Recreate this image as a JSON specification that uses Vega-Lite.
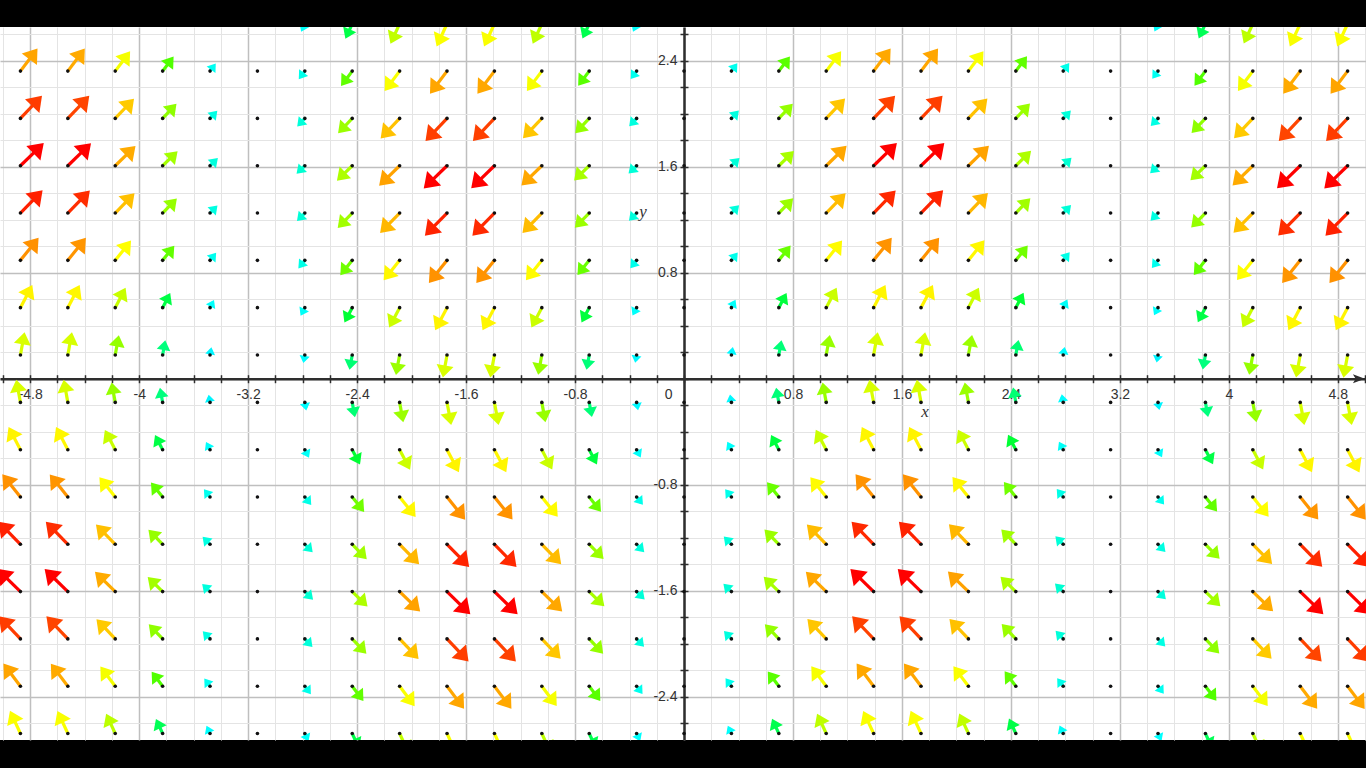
{
"$schema":"https://vega.github.io/schema/vega-lite/v6.json",
"width":1366,"height":713,"autosize":"none",
"padding":{"top":27,"bottom":28,"left":0,"right":0},
"background":"#000000",
"config":{"view":{"fill":"#ffffff","stroke":null}},
"data":{"values":[
{"x":-4.872,"y":2.678,"u":0.442,"v":0.987},{"x":-4.872,"y":2.321,"u":0.722,"v":0.987},{"x":-4.872,"y":1.964,"u":0.912,"v":0.987},{"x":-4.872,"y":1.607,"u":0.986,"v":0.987},{"x":-4.872,"y":1.25,"u":0.937,"v":0.987},{"x":-4.872,"y":0.893,"u":0.769,"v":0.987},{"x":-4.872,"y":0.536,"u":0.503,"v":0.987},{"x":-4.872,"y":0.179,"u":0.176,"v":0.987},{"x":-4.872,"y":-0.179,"u":-0.176,"v":0.987},{"x":-4.872,"y":-0.536,"u":-0.503,"v":0.987},{"x":-4.872,"y":-0.893,"u":-0.769,"v":0.987},{"x":-4.872,"y":-1.25,"u":-0.937,"v":0.987},{"x":-4.872,"y":-1.607,"u":-0.986,"v":0.987},{"x":-4.872,"y":-1.964,"u":-0.912,"v":0.987},{"x":-4.872,"y":-2.321,"u":-0.722,"v":0.987},{"x":-4.872,"y":-2.678,"u":-0.442,"v":0.987},
{"x":-4.524,"y":2.678,"u":0.44,"v":0.982},{"x":-4.524,"y":2.321,"u":0.719,"v":0.982},{"x":-4.524,"y":1.964,"u":0.907,"v":0.982},{"x":-4.524,"y":1.607,"u":0.981,"v":0.982},{"x":-4.524,"y":1.25,"u":0.932,"v":0.982},{"x":-4.524,"y":0.893,"u":0.765,"v":0.982},{"x":-4.524,"y":0.536,"u":0.501,"v":0.982},{"x":-4.524,"y":0.179,"u":0.175,"v":0.982},{"x":-4.524,"y":-0.179,"u":-0.175,"v":0.982},{"x":-4.524,"y":-0.536,"u":-0.501,"v":0.982},{"x":-4.524,"y":-0.893,"u":-0.765,"v":0.982},{"x":-4.524,"y":-1.25,"u":-0.932,"v":0.982},{"x":-4.524,"y":-1.607,"u":-0.981,"v":0.982},{"x":-4.524,"y":-1.964,"u":-0.907,"v":0.982},{"x":-4.524,"y":-2.321,"u":-0.719,"v":0.982},{"x":-4.524,"y":-2.678,"u":-0.44,"v":0.982},
{"x":-4.176,"y":2.678,"u":0.385,"v":0.86},{"x":-4.176,"y":2.321,"u":0.63,"v":0.86},{"x":-4.176,"y":1.964,"u":0.795,"v":0.86},{"x":-4.176,"y":1.607,"u":0.859,"v":0.86},{"x":-4.176,"y":1.25,"u":0.816,"v":0.86},{"x":-4.176,"y":0.893,"u":0.67,"v":0.86},{"x":-4.176,"y":0.536,"u":0.439,"v":0.86},{"x":-4.176,"y":0.179,"u":0.153,"v":0.86},{"x":-4.176,"y":-0.179,"u":-0.153,"v":0.86},{"x":-4.176,"y":-0.536,"u":-0.439,"v":0.86},{"x":-4.176,"y":-0.893,"u":-0.67,"v":0.86},{"x":-4.176,"y":-1.25,"u":-0.816,"v":0.86},{"x":-4.176,"y":-1.607,"u":-0.859,"v":0.86},{"x":-4.176,"y":-1.964,"u":-0.795,"v":0.86},{"x":-4.176,"y":-2.321,"u":-0.63,"v":0.86},{"x":-4.176,"y":-2.678,"u":-0.385,"v":0.86},
{"x":-3.828,"y":2.678,"u":0.284,"v":0.634},{"x":-3.828,"y":2.321,"u":0.464,"v":0.634},{"x":-3.828,"y":1.964,"u":0.586,"v":0.634},{"x":-3.828,"y":1.607,"u":0.633,"v":0.634},{"x":-3.828,"y":1.25,"u":0.602,"v":0.634},{"x":-3.828,"y":0.893,"u":0.494,"v":0.634},{"x":-3.828,"y":0.536,"u":0.323,"v":0.634},{"x":-3.828,"y":0.179,"u":0.113,"v":0.634},{"x":-3.828,"y":-0.179,"u":-0.113,"v":0.634},{"x":-3.828,"y":-0.536,"u":-0.323,"v":0.634},{"x":-3.828,"y":-0.893,"u":-0.494,"v":0.634},{"x":-3.828,"y":-1.25,"u":-0.602,"v":0.634},{"x":-3.828,"y":-1.607,"u":-0.633,"v":0.634},{"x":-3.828,"y":-1.964,"u":-0.586,"v":0.634},{"x":-3.828,"y":-2.321,"u":-0.464,"v":0.634},{"x":-3.828,"y":-2.678,"u":-0.284,"v":0.634},
{"x":-3.48,"y":2.678,"u":0.149,"v":0.332},{"x":-3.48,"y":2.321,"u":0.243,"v":0.332},{"x":-3.48,"y":1.964,"u":0.307,"v":0.332},{"x":-3.48,"y":1.607,"u":0.332,"v":0.332},{"x":-3.48,"y":1.25,"u":0.315,"v":0.332},{"x":-3.48,"y":0.893,"u":0.259,"v":0.332},{"x":-3.48,"y":0.536,"u":0.169,"v":0.332},{"x":-3.48,"y":0.179,"u":0.059,"v":0.332},{"x":-3.48,"y":-0.179,"u":-0.059,"v":0.332},{"x":-3.48,"y":-0.536,"u":-0.169,"v":0.332},{"x":-3.48,"y":-0.893,"u":-0.259,"v":0.332},{"x":-3.48,"y":-1.25,"u":-0.315,"v":0.332},{"x":-3.48,"y":-1.607,"u":-0.332,"v":0.332},{"x":-3.48,"y":-1.964,"u":-0.307,"v":0.332},{"x":-3.48,"y":-2.321,"u":-0.243,"v":0.332},{"x":-3.48,"y":-2.678,"u":-0.149,"v":0.332},
{"x":-3.132,"y":2.678,"u":-0.004,"v":-0.01},{"x":-3.132,"y":2.321,"u":-0.007,"v":-0.01},{"x":-3.132,"y":1.964,"u":-0.009,"v":-0.01},{"x":-3.132,"y":1.607,"u":-0.01,"v":-0.01},{"x":-3.132,"y":1.25,"u":-0.009,"v":-0.01},{"x":-3.132,"y":0.893,"u":-0.008,"v":-0.01},{"x":-3.132,"y":0.536,"u":-0.005,"v":-0.01},{"x":-3.132,"y":0.179,"u":-0.002,"v":-0.01},{"x":-3.132,"y":-0.179,"u":0.002,"v":-0.01},{"x":-3.132,"y":-0.536,"u":0.005,"v":-0.01},{"x":-3.132,"y":-0.893,"u":0.008,"v":-0.01},{"x":-3.132,"y":-1.25,"u":0.009,"v":-0.01},{"x":-3.132,"y":-1.607,"u":0.01,"v":-0.01},{"x":-3.132,"y":-1.964,"u":0.009,"v":-0.01},{"x":-3.132,"y":-2.321,"u":0.007,"v":-0.01},{"x":-3.132,"y":-2.678,"u":0.004,"v":-0.01},
{"x":-2.784,"y":2.678,"u":-0.157,"v":-0.35},{"x":-2.784,"y":2.321,"u":-0.256,"v":-0.35},{"x":-2.784,"y":1.964,"u":-0.323,"v":-0.35},{"x":-2.784,"y":1.607,"u":-0.35,"v":-0.35},{"x":-2.784,"y":1.25,"u":-0.332,"v":-0.35},{"x":-2.784,"y":0.893,"u":-0.273,"v":-0.35},{"x":-2.784,"y":0.536,"u":-0.179,"v":-0.35},{"x":-2.784,"y":0.179,"u":-0.062,"v":-0.35},{"x":-2.784,"y":-0.179,"u":0.062,"v":-0.35},{"x":-2.784,"y":-0.536,"u":0.179,"v":-0.35},{"x":-2.784,"y":-0.893,"u":0.273,"v":-0.35},{"x":-2.784,"y":-1.25,"u":0.332,"v":-0.35},{"x":-2.784,"y":-1.607,"u":0.35,"v":-0.35},{"x":-2.784,"y":-1.964,"u":0.323,"v":-0.35},{"x":-2.784,"y":-2.321,"u":0.256,"v":-0.35},{"x":-2.784,"y":-2.678,"u":0.157,"v":-0.35},
{"x":-2.436,"y":2.678,"u":-0.29,"v":-0.648},{"x":-2.436,"y":2.321,"u":-0.474,"v":-0.648},{"x":-2.436,"y":1.964,"u":-0.599,"v":-0.648},{"x":-2.436,"y":1.607,"u":-0.647,"v":-0.648},{"x":-2.436,"y":1.25,"u":-0.615,"v":-0.648},{"x":-2.436,"y":0.893,"u":-0.505,"v":-0.648},{"x":-2.436,"y":0.536,"u":-0.33,"v":-0.648},{"x":-2.436,"y":0.179,"u":-0.115,"v":-0.648},{"x":-2.436,"y":-0.179,"u":0.115,"v":-0.648},{"x":-2.436,"y":-0.536,"u":0.33,"v":-0.648},{"x":-2.436,"y":-0.893,"u":0.505,"v":-0.648},{"x":-2.436,"y":-1.25,"u":0.615,"v":-0.648},{"x":-2.436,"y":-1.607,"u":0.647,"v":-0.648},{"x":-2.436,"y":-1.964,"u":0.599,"v":-0.648},{"x":-2.436,"y":-2.321,"u":0.474,"v":-0.648},{"x":-2.436,"y":-2.678,"u":0.29,"v":-0.648},
{"x":-2.088,"y":2.678,"u":-0.389,"v":-0.869},{"x":-2.088,"y":2.321,"u":-0.636,"v":-0.869},{"x":-2.088,"y":1.964,"u":-0.803,"v":-0.869},{"x":-2.088,"y":1.607,"u":-0.868,"v":-0.869},{"x":-2.088,"y":1.25,"u":-0.825,"v":-0.869},{"x":-2.088,"y":0.893,"u":-0.677,"v":-0.869},{"x":-2.088,"y":0.536,"u":-0.443,"v":-0.869},{"x":-2.088,"y":0.179,"u":-0.155,"v":-0.869},{"x":-2.088,"y":-0.179,"u":0.155,"v":-0.869},{"x":-2.088,"y":-0.536,"u":0.443,"v":-0.869},{"x":-2.088,"y":-0.893,"u":0.677,"v":-0.869},{"x":-2.088,"y":-1.25,"u":0.825,"v":-0.869},{"x":-2.088,"y":-1.607,"u":0.868,"v":-0.869},{"x":-2.088,"y":-1.964,"u":0.803,"v":-0.869},{"x":-2.088,"y":-2.321,"u":0.636,"v":-0.869},{"x":-2.088,"y":-2.678,"u":0.389,"v":-0.869},
{"x":-1.74,"y":2.678,"u":-0.442,"v":-0.986},{"x":-1.74,"y":2.321,"u":-0.722,"v":-0.986},{"x":-1.74,"y":1.964,"u":-0.911,"v":-0.986},{"x":-1.74,"y":1.607,"u":-0.985,"v":-0.986},{"x":-1.74,"y":1.25,"u":-0.936,"v":-0.986},{"x":-1.74,"y":0.893,"u":-0.768,"v":-0.986},{"x":-1.74,"y":0.536,"u":-0.503,"v":-0.986},{"x":-1.74,"y":0.179,"u":-0.176,"v":-0.986},{"x":-1.74,"y":-0.179,"u":0.176,"v":-0.986},{"x":-1.74,"y":-0.536,"u":0.503,"v":-0.986},{"x":-1.74,"y":-0.893,"u":0.768,"v":-0.986},{"x":-1.74,"y":-1.25,"u":0.936,"v":-0.986},{"x":-1.74,"y":-1.607,"u":0.985,"v":-0.986},{"x":-1.74,"y":-1.964,"u":0.911,"v":-0.986},{"x":-1.74,"y":-2.321,"u":0.722,"v":-0.986},{"x":-1.74,"y":-2.678,"u":0.442,"v":-0.986},
{"x":-1.392,"y":2.678,"u":-0.441,"v":-0.984},{"x":-1.392,"y":2.321,"u":-0.72,"v":-0.984},{"x":-1.392,"y":1.964,"u":-0.909,"v":-0.984},{"x":-1.392,"y":1.607,"u":-0.983,"v":-0.984},{"x":-1.392,"y":1.25,"u":-0.934,"v":-0.984},{"x":-1.392,"y":0.893,"u":-0.767,"v":-0.984},{"x":-1.392,"y":0.536,"u":-0.502,"v":-0.984},{"x":-1.392,"y":0.179,"u":-0.175,"v":-0.984},{"x":-1.392,"y":-0.179,"u":0.175,"v":-0.984},{"x":-1.392,"y":-0.536,"u":0.502,"v":-0.984},{"x":-1.392,"y":-0.893,"u":0.767,"v":-0.984},{"x":-1.392,"y":-1.25,"u":0.934,"v":-0.984},{"x":-1.392,"y":-1.607,"u":0.983,"v":-0.984},{"x":-1.392,"y":-1.964,"u":0.909,"v":-0.984},{"x":-1.392,"y":-2.321,"u":0.72,"v":-0.984},{"x":-1.392,"y":-2.678,"u":0.441,"v":-0.984},
{"x":-1.044,"y":2.678,"u":-0.387,"v":-0.864},{"x":-1.044,"y":2.321,"u":-0.632,"v":-0.864},{"x":-1.044,"y":1.964,"u":-0.798,"v":-0.864},{"x":-1.044,"y":1.607,"u":-0.863,"v":-0.864},{"x":-1.044,"y":1.25,"u":-0.82,"v":-0.864},{"x":-1.044,"y":0.893,"u":-0.673,"v":-0.864},{"x":-1.044,"y":0.536,"u":-0.441,"v":-0.864},{"x":-1.044,"y":0.179,"u":-0.154,"v":-0.864},{"x":-1.044,"y":-0.179,"u":0.154,"v":-0.864},{"x":-1.044,"y":-0.536,"u":0.441,"v":-0.864},{"x":-1.044,"y":-0.893,"u":0.673,"v":-0.864},{"x":-1.044,"y":-1.25,"u":0.82,"v":-0.864},{"x":-1.044,"y":-1.607,"u":0.863,"v":-0.864},{"x":-1.044,"y":-1.964,"u":0.798,"v":-0.864},{"x":-1.044,"y":-2.321,"u":0.632,"v":-0.864},{"x":-1.044,"y":-2.678,"u":0.387,"v":-0.864},
{"x":-0.696,"y":2.678,"u":-0.287,"v":-0.641},{"x":-0.696,"y":2.321,"u":-0.469,"v":-0.641},{"x":-0.696,"y":1.964,"u":-0.592,"v":-0.641},{"x":-0.696,"y":1.607,"u":-0.64,"v":-0.641},{"x":-0.696,"y":1.25,"u":-0.608,"v":-0.641},{"x":-0.696,"y":0.893,"u":-0.499,"v":-0.641},{"x":-0.696,"y":0.536,"u":-0.327,"v":-0.641},{"x":-0.696,"y":0.179,"u":-0.114,"v":-0.641},{"x":-0.696,"y":-0.179,"u":0.114,"v":-0.641},{"x":-0.696,"y":-0.536,"u":0.327,"v":-0.641},{"x":-0.696,"y":-0.893,"u":0.499,"v":-0.641},{"x":-0.696,"y":-1.25,"u":0.608,"v":-0.641},{"x":-0.696,"y":-1.607,"u":0.64,"v":-0.641},{"x":-0.696,"y":-1.964,"u":0.592,"v":-0.641},{"x":-0.696,"y":-2.321,"u":0.469,"v":-0.641},{"x":-0.696,"y":-2.678,"u":0.287,"v":-0.641},
{"x":-0.348,"y":2.678,"u":-0.153,"v":-0.341},{"x":-0.348,"y":2.321,"u":-0.25,"v":-0.341},{"x":-0.348,"y":1.964,"u":-0.315,"v":-0.341},{"x":-0.348,"y":1.607,"u":-0.341,"v":-0.341},{"x":-0.348,"y":1.25,"u":-0.324,"v":-0.341},{"x":-0.348,"y":0.893,"u":-0.266,"v":-0.341},{"x":-0.348,"y":0.536,"u":-0.174,"v":-0.341},{"x":-0.348,"y":0.179,"u":-0.061,"v":-0.341},{"x":-0.348,"y":-0.179,"u":0.061,"v":-0.341},{"x":-0.348,"y":-0.536,"u":0.174,"v":-0.341},{"x":-0.348,"y":-0.893,"u":0.266,"v":-0.341},{"x":-0.348,"y":-1.25,"u":0.324,"v":-0.341},{"x":-0.348,"y":-1.607,"u":0.341,"v":-0.341},{"x":-0.348,"y":-1.964,"u":0.315,"v":-0.341},{"x":-0.348,"y":-2.321,"u":0.25,"v":-0.341},{"x":-0.348,"y":-2.678,"u":0.153,"v":-0.341},
{"x":0,"y":2.678,"u":0,"v":0},{"x":0,"y":2.321,"u":0,"v":0},{"x":0,"y":1.964,"u":0,"v":0},{"x":0,"y":1.607,"u":0,"v":0},{"x":0,"y":1.25,"u":0,"v":0},{"x":0,"y":0.893,"u":0,"v":0},{"x":0,"y":0.536,"u":0,"v":0},{"x":0,"y":0.179,"u":0,"v":0},{"x":0,"y":-0.179,"u":0,"v":0},{"x":0,"y":-0.536,"u":0,"v":0},{"x":0,"y":-0.893,"u":0,"v":0},{"x":0,"y":-1.25,"u":0,"v":0},{"x":0,"y":-1.607,"u":0,"v":0},{"x":0,"y":-1.964,"u":0,"v":0},{"x":0,"y":-2.321,"u":0,"v":0},{"x":0,"y":-2.678,"u":0,"v":0},
{"x":0.348,"y":2.678,"u":0.153,"v":0.341},{"x":0.348,"y":2.321,"u":0.25,"v":0.341},{"x":0.348,"y":1.964,"u":0.315,"v":0.341},{"x":0.348,"y":1.607,"u":0.341,"v":0.341},{"x":0.348,"y":1.25,"u":0.324,"v":0.341},{"x":0.348,"y":0.893,"u":0.266,"v":0.341},{"x":0.348,"y":0.536,"u":0.174,"v":0.341},{"x":0.348,"y":0.179,"u":0.061,"v":0.341},{"x":0.348,"y":-0.179,"u":-0.061,"v":0.341},{"x":0.348,"y":-0.536,"u":-0.174,"v":0.341},{"x":0.348,"y":-0.893,"u":-0.266,"v":0.341},{"x":0.348,"y":-1.25,"u":-0.324,"v":0.341},{"x":0.348,"y":-1.607,"u":-0.341,"v":0.341},{"x":0.348,"y":-1.964,"u":-0.315,"v":0.341},{"x":0.348,"y":-2.321,"u":-0.25,"v":0.341},{"x":0.348,"y":-2.678,"u":-0.153,"v":0.341},
{"x":0.696,"y":2.678,"u":0.287,"v":0.641},{"x":0.696,"y":2.321,"u":0.469,"v":0.641},{"x":0.696,"y":1.964,"u":0.592,"v":0.641},{"x":0.696,"y":1.607,"u":0.64,"v":0.641},{"x":0.696,"y":1.25,"u":0.608,"v":0.641},{"x":0.696,"y":0.893,"u":0.499,"v":0.641},{"x":0.696,"y":0.536,"u":0.327,"v":0.641},{"x":0.696,"y":0.179,"u":0.114,"v":0.641},{"x":0.696,"y":-0.179,"u":-0.114,"v":0.641},{"x":0.696,"y":-0.536,"u":-0.327,"v":0.641},{"x":0.696,"y":-0.893,"u":-0.499,"v":0.641},{"x":0.696,"y":-1.25,"u":-0.608,"v":0.641},{"x":0.696,"y":-1.607,"u":-0.64,"v":0.641},{"x":0.696,"y":-1.964,"u":-0.592,"v":0.641},{"x":0.696,"y":-2.321,"u":-0.469,"v":0.641},{"x":0.696,"y":-2.678,"u":-0.287,"v":0.641},
{"x":1.044,"y":2.678,"u":0.387,"v":0.864},{"x":1.044,"y":2.321,"u":0.632,"v":0.864},{"x":1.044,"y":1.964,"u":0.798,"v":0.864},{"x":1.044,"y":1.607,"u":0.863,"v":0.864},{"x":1.044,"y":1.25,"u":0.82,"v":0.864},{"x":1.044,"y":0.893,"u":0.673,"v":0.864},{"x":1.044,"y":0.536,"u":0.441,"v":0.864},{"x":1.044,"y":0.179,"u":0.154,"v":0.864},{"x":1.044,"y":-0.179,"u":-0.154,"v":0.864},{"x":1.044,"y":-0.536,"u":-0.441,"v":0.864},{"x":1.044,"y":-0.893,"u":-0.673,"v":0.864},{"x":1.044,"y":-1.25,"u":-0.82,"v":0.864},{"x":1.044,"y":-1.607,"u":-0.863,"v":0.864},{"x":1.044,"y":-1.964,"u":-0.798,"v":0.864},{"x":1.044,"y":-2.321,"u":-0.632,"v":0.864},{"x":1.044,"y":-2.678,"u":-0.387,"v":0.864},
{"x":1.392,"y":2.678,"u":0.441,"v":0.984},{"x":1.392,"y":2.321,"u":0.72,"v":0.984},{"x":1.392,"y":1.964,"u":0.909,"v":0.984},{"x":1.392,"y":1.607,"u":0.983,"v":0.984},{"x":1.392,"y":1.25,"u":0.934,"v":0.984},{"x":1.392,"y":0.893,"u":0.767,"v":0.984},{"x":1.392,"y":0.536,"u":0.502,"v":0.984},{"x":1.392,"y":0.179,"u":0.175,"v":0.984},{"x":1.392,"y":-0.179,"u":-0.175,"v":0.984},{"x":1.392,"y":-0.536,"u":-0.502,"v":0.984},{"x":1.392,"y":-0.893,"u":-0.767,"v":0.984},{"x":1.392,"y":-1.25,"u":-0.934,"v":0.984},{"x":1.392,"y":-1.607,"u":-0.983,"v":0.984},{"x":1.392,"y":-1.964,"u":-0.909,"v":0.984},{"x":1.392,"y":-2.321,"u":-0.72,"v":0.984},{"x":1.392,"y":-2.678,"u":-0.441,"v":0.984},
{"x":1.74,"y":2.678,"u":0.442,"v":0.986},{"x":1.74,"y":2.321,"u":0.722,"v":0.986},{"x":1.74,"y":1.964,"u":0.911,"v":0.986},{"x":1.74,"y":1.607,"u":0.985,"v":0.986},{"x":1.74,"y":1.25,"u":0.936,"v":0.986},{"x":1.74,"y":0.893,"u":0.768,"v":0.986},{"x":1.74,"y":0.536,"u":0.503,"v":0.986},{"x":1.74,"y":0.179,"u":0.176,"v":0.986},{"x":1.74,"y":-0.179,"u":-0.176,"v":0.986},{"x":1.74,"y":-0.536,"u":-0.503,"v":0.986},{"x":1.74,"y":-0.893,"u":-0.768,"v":0.986},{"x":1.74,"y":-1.25,"u":-0.936,"v":0.986},{"x":1.74,"y":-1.607,"u":-0.985,"v":0.986},{"x":1.74,"y":-1.964,"u":-0.911,"v":0.986},{"x":1.74,"y":-2.321,"u":-0.722,"v":0.986},{"x":1.74,"y":-2.678,"u":-0.442,"v":0.986},
{"x":2.088,"y":2.678,"u":0.389,"v":0.869},{"x":2.088,"y":2.321,"u":0.636,"v":0.869},{"x":2.088,"y":1.964,"u":0.803,"v":0.869},{"x":2.088,"y":1.607,"u":0.868,"v":0.869},{"x":2.088,"y":1.25,"u":0.825,"v":0.869},{"x":2.088,"y":0.893,"u":0.677,"v":0.869},{"x":2.088,"y":0.536,"u":0.443,"v":0.869},{"x":2.088,"y":0.179,"u":0.155,"v":0.869},{"x":2.088,"y":-0.179,"u":-0.155,"v":0.869},{"x":2.088,"y":-0.536,"u":-0.443,"v":0.869},{"x":2.088,"y":-0.893,"u":-0.677,"v":0.869},{"x":2.088,"y":-1.25,"u":-0.825,"v":0.869},{"x":2.088,"y":-1.607,"u":-0.868,"v":0.869},{"x":2.088,"y":-1.964,"u":-0.803,"v":0.869},{"x":2.088,"y":-2.321,"u":-0.636,"v":0.869},{"x":2.088,"y":-2.678,"u":-0.389,"v":0.869},
{"x":2.436,"y":2.678,"u":0.29,"v":0.648},{"x":2.436,"y":2.321,"u":0.474,"v":0.648},{"x":2.436,"y":1.964,"u":0.599,"v":0.648},{"x":2.436,"y":1.607,"u":0.647,"v":0.648},{"x":2.436,"y":1.25,"u":0.615,"v":0.648},{"x":2.436,"y":0.893,"u":0.505,"v":0.648},{"x":2.436,"y":0.536,"u":0.33,"v":0.648},{"x":2.436,"y":0.179,"u":0.115,"v":0.648},{"x":2.436,"y":-0.179,"u":-0.115,"v":0.648},{"x":2.436,"y":-0.536,"u":-0.33,"v":0.648},{"x":2.436,"y":-0.893,"u":-0.505,"v":0.648},{"x":2.436,"y":-1.25,"u":-0.615,"v":0.648},{"x":2.436,"y":-1.607,"u":-0.647,"v":0.648},{"x":2.436,"y":-1.964,"u":-0.599,"v":0.648},{"x":2.436,"y":-2.321,"u":-0.474,"v":0.648},{"x":2.436,"y":-2.678,"u":-0.29,"v":0.648},
{"x":2.784,"y":2.678,"u":0.157,"v":0.35},{"x":2.784,"y":2.321,"u":0.256,"v":0.35},{"x":2.784,"y":1.964,"u":0.323,"v":0.35},{"x":2.784,"y":1.607,"u":0.35,"v":0.35},{"x":2.784,"y":1.25,"u":0.332,"v":0.35},{"x":2.784,"y":0.893,"u":0.273,"v":0.35},{"x":2.784,"y":0.536,"u":0.179,"v":0.35},{"x":2.784,"y":0.179,"u":0.062,"v":0.35},{"x":2.784,"y":-0.179,"u":-0.062,"v":0.35},{"x":2.784,"y":-0.536,"u":-0.179,"v":0.35},{"x":2.784,"y":-0.893,"u":-0.273,"v":0.35},{"x":2.784,"y":-1.25,"u":-0.332,"v":0.35},{"x":2.784,"y":-1.607,"u":-0.35,"v":0.35},{"x":2.784,"y":-1.964,"u":-0.323,"v":0.35},{"x":2.784,"y":-2.321,"u":-0.256,"v":0.35},{"x":2.784,"y":-2.678,"u":-0.157,"v":0.35},
{"x":3.132,"y":2.678,"u":0.004,"v":0.01},{"x":3.132,"y":2.321,"u":0.007,"v":0.01},{"x":3.132,"y":1.964,"u":0.009,"v":0.01},{"x":3.132,"y":1.607,"u":0.01,"v":0.01},{"x":3.132,"y":1.25,"u":0.009,"v":0.01},{"x":3.132,"y":0.893,"u":0.008,"v":0.01},{"x":3.132,"y":0.536,"u":0.005,"v":0.01},{"x":3.132,"y":0.179,"u":0.002,"v":0.01},{"x":3.132,"y":-0.179,"u":-0.002,"v":0.01},{"x":3.132,"y":-0.536,"u":-0.005,"v":0.01},{"x":3.132,"y":-0.893,"u":-0.008,"v":0.01},{"x":3.132,"y":-1.25,"u":-0.009,"v":0.01},{"x":3.132,"y":-1.607,"u":-0.01,"v":0.01},{"x":3.132,"y":-1.964,"u":-0.009,"v":0.01},{"x":3.132,"y":-2.321,"u":-0.007,"v":0.01},{"x":3.132,"y":-2.678,"u":-0.004,"v":0.01},
{"x":3.48,"y":2.678,"u":-0.149,"v":-0.332},{"x":3.48,"y":2.321,"u":-0.243,"v":-0.332},{"x":3.48,"y":1.964,"u":-0.307,"v":-0.332},{"x":3.48,"y":1.607,"u":-0.332,"v":-0.332},{"x":3.48,"y":1.25,"u":-0.315,"v":-0.332},{"x":3.48,"y":0.893,"u":-0.259,"v":-0.332},{"x":3.48,"y":0.536,"u":-0.169,"v":-0.332},{"x":3.48,"y":0.179,"u":-0.059,"v":-0.332},{"x":3.48,"y":-0.179,"u":0.059,"v":-0.332},{"x":3.48,"y":-0.536,"u":0.169,"v":-0.332},{"x":3.48,"y":-0.893,"u":0.259,"v":-0.332},{"x":3.48,"y":-1.25,"u":0.315,"v":-0.332},{"x":3.48,"y":-1.607,"u":0.332,"v":-0.332},{"x":3.48,"y":-1.964,"u":0.307,"v":-0.332},{"x":3.48,"y":-2.321,"u":0.243,"v":-0.332},{"x":3.48,"y":-2.678,"u":0.149,"v":-0.332},
{"x":3.828,"y":2.678,"u":-0.284,"v":-0.634},{"x":3.828,"y":2.321,"u":-0.464,"v":-0.634},{"x":3.828,"y":1.964,"u":-0.586,"v":-0.634},{"x":3.828,"y":1.607,"u":-0.633,"v":-0.634},{"x":3.828,"y":1.25,"u":-0.602,"v":-0.634},{"x":3.828,"y":0.893,"u":-0.494,"v":-0.634},{"x":3.828,"y":0.536,"u":-0.323,"v":-0.634},{"x":3.828,"y":0.179,"u":-0.113,"v":-0.634},{"x":3.828,"y":-0.179,"u":0.113,"v":-0.634},{"x":3.828,"y":-0.536,"u":0.323,"v":-0.634},{"x":3.828,"y":-0.893,"u":0.494,"v":-0.634},{"x":3.828,"y":-1.25,"u":0.602,"v":-0.634},{"x":3.828,"y":-1.607,"u":0.633,"v":-0.634},{"x":3.828,"y":-1.964,"u":0.586,"v":-0.634},{"x":3.828,"y":-2.321,"u":0.464,"v":-0.634},{"x":3.828,"y":-2.678,"u":0.284,"v":-0.634},
{"x":4.176,"y":2.678,"u":-0.385,"v":-0.86},{"x":4.176,"y":2.321,"u":-0.63,"v":-0.86},{"x":4.176,"y":1.964,"u":-0.795,"v":-0.86},{"x":4.176,"y":1.607,"u":-0.859,"v":-0.86},{"x":4.176,"y":1.25,"u":-0.816,"v":-0.86},{"x":4.176,"y":0.893,"u":-0.67,"v":-0.86},{"x":4.176,"y":0.536,"u":-0.439,"v":-0.86},{"x":4.176,"y":0.179,"u":-0.153,"v":-0.86},{"x":4.176,"y":-0.179,"u":0.153,"v":-0.86},{"x":4.176,"y":-0.536,"u":0.439,"v":-0.86},{"x":4.176,"y":-0.893,"u":0.67,"v":-0.86},{"x":4.176,"y":-1.25,"u":0.816,"v":-0.86},{"x":4.176,"y":-1.607,"u":0.859,"v":-0.86},{"x":4.176,"y":-1.964,"u":0.795,"v":-0.86},{"x":4.176,"y":-2.321,"u":0.63,"v":-0.86},{"x":4.176,"y":-2.678,"u":0.385,"v":-0.86},
{"x":4.524,"y":2.678,"u":-0.44,"v":-0.982},{"x":4.524,"y":2.321,"u":-0.719,"v":-0.982},{"x":4.524,"y":1.964,"u":-0.907,"v":-0.982},{"x":4.524,"y":1.607,"u":-0.981,"v":-0.982},{"x":4.524,"y":1.25,"u":-0.932,"v":-0.982},{"x":4.524,"y":0.893,"u":-0.765,"v":-0.982},{"x":4.524,"y":0.536,"u":-0.501,"v":-0.982},{"x":4.524,"y":0.179,"u":-0.175,"v":-0.982},{"x":4.524,"y":-0.179,"u":0.175,"v":-0.982},{"x":4.524,"y":-0.536,"u":0.501,"v":-0.982},{"x":4.524,"y":-0.893,"u":0.765,"v":-0.982},{"x":4.524,"y":-1.25,"u":0.932,"v":-0.982},{"x":4.524,"y":-1.607,"u":0.981,"v":-0.982},{"x":4.524,"y":-1.964,"u":0.907,"v":-0.982},{"x":4.524,"y":-2.321,"u":0.719,"v":-0.982},{"x":4.524,"y":-2.678,"u":0.44,"v":-0.982},
{"x":4.872,"y":2.678,"u":-0.442,"v":-0.987},{"x":4.872,"y":2.321,"u":-0.722,"v":-0.987},{"x":4.872,"y":1.964,"u":-0.912,"v":-0.987},{"x":4.872,"y":1.607,"u":-0.986,"v":-0.987},{"x":4.872,"y":1.25,"u":-0.937,"v":-0.987},{"x":4.872,"y":0.893,"u":-0.769,"v":-0.987},{"x":4.872,"y":0.536,"u":-0.503,"v":-0.987},{"x":4.872,"y":0.179,"u":-0.176,"v":-0.987},{"x":4.872,"y":-0.179,"u":0.176,"v":-0.987},{"x":4.872,"y":-0.536,"u":0.503,"v":-0.987},{"x":4.872,"y":-0.893,"u":0.769,"v":-0.987},{"x":4.872,"y":-1.25,"u":0.937,"v":-0.987},{"x":4.872,"y":-1.607,"u":0.986,"v":-0.987},{"x":4.872,"y":-1.964,"u":0.912,"v":-0.987},{"x":4.872,"y":-2.321,"u":0.722,"v":-0.987},{"x":4.872,"y":-2.678,"u":0.442,"v":-0.987}
]},
"resolve":{"axis":{"x":"independent","y":"independent"}},
"layer":[
{
"transform":[
{"calculate":"datum.x + 0.12*datum.u","as":"sx"},
{"calculate":"datum.y + 0.12*datum.v","as":"sy"},
{"calculate":"sqrt(datum.u*datum.u + datum.v*datum.v)","as":"m"}
],
"mark":{"type":"rule","strokeWidth":3.2,"strokeCap":"butt","clip":true},
"encoding":{
"x":{"field":"x","type":"quantitative","scale":{"domain":[-5.022,5.007],"nice":false,"zero":false},
 "axis":{"orient":"bottom","offset":-361.3,"title":null,
 "values":[-5,-4.8,-4.6,-4.4,-4.2,-4,-3.8,-3.6,-3.4,-3.2,-3,-2.8,-2.6,-2.4,-2.2,-2,-1.8,-1.6,-1.4,-1.2,-1,-0.8,-0.6,-0.4,-0.2,0,0.2,0.4,0.6,0.8,1,1.2,1.4,1.6,1.8,2,2.2,2.4,2.6,2.8,3,3.2,3.4,3.6,3.8,4,4.2,4.4,4.6,4.8,5],
 "grid":true,
 "gridColor":{"condition":{"test":"abs(datum.value/0.8 - round(datum.value/0.8)) < 0.001","value":"#bfbfbf"},"value":"#e4e4e4"},
 "gridWidth":{"condition":{"test":"abs(datum.value/0.8 - round(datum.value/0.8)) < 0.001","value":1.5},"value":1},
 "domain":true,"domainColor":"#2e2e2e","domainWidth":2.5,
 "ticks":true,"tickColor":"#2e2e2e","tickSize":4,"tickWidth":1.5,
 "labelExpr":"datum.value == 0 ? '0' : (abs(datum.value/0.8 - round(datum.value/0.8)) < 0.001 ? '' + datum.value : '')",
 "labelFont":"Liberation Sans","labelFontSize":14,"labelColor":"#333333","labelPadding":5,
 "labelOffset":{"condition":{"test":"datum.value == 0","value":-16},"value":0},
 "labelFlush":false,"labelOverlap":false,"labelBound":false}},
"y":{"field":"y","type":"quantitative","scale":{"domain":[-2.727,2.654],"nice":false,"zero":false},
 "axis":{"orient":"left","offset":-684,"title":null,
 "values":[-2.6,-2.4,-2.2,-2,-1.8,-1.6,-1.4,-1.2,-1,-0.8,-0.6,-0.4,-0.2,0,0.2,0.4,0.6,0.8,1,1.2,1.4,1.6,1.8,2,2.2,2.4,2.6],
 "grid":true,
 "gridColor":{"condition":{"test":"abs(datum.value/0.8 - round(datum.value/0.8)) < 0.001","value":"#bfbfbf"},"value":"#e4e4e4"},
 "gridWidth":{"condition":{"test":"abs(datum.value/0.8 - round(datum.value/0.8)) < 0.001","value":1.5},"value":1},
 "domain":true,"domainColor":"#2e2e2e","domainWidth":2.5,
 "ticks":true,"tickColor":"#2e2e2e","tickSize":4,"tickWidth":1.5,
 "labelExpr":"datum.value == 0 ? '' : (abs(datum.value/0.8 - round(datum.value/0.8)) < 0.001 ? '' + datum.value : '')",
 "labelFont":"Liberation Sans","labelFontSize":14,"labelColor":"#333333","labelPadding":3,
 "labelFlush":false,"labelOverlap":false,"labelBound":false}},
"x2":{"field":"sx"},
"y2":{"field":"sy"},
"color":{"field":"m","type":"quantitative","scale":{"domain":[0,0.36,0.75,1.09,1.37],"range":["#0000ff","#00ffff","#00ff00","#ffff00","#ff0000"],"clamp":true},"legend":null}
}
},
{
"transform":[
{"calculate":"datum.x + 0.1735*datum.u","as":"hx"},
{"calculate":"datum.y + 0.1735*datum.v","as":"hy"},
{"calculate":"sqrt(datum.u*datum.u + datum.v*datum.v)","as":"m"},
{"calculate":"atan2(datum.u*136.2, datum.v*132.5)*180/PI","as":"ang"},
{"calculate":"600*datum.m","as":"hs"}
],
"mark":{"type":"point","filled":true,"opacity":1,"strokeWidth":0,"clip":true,"shape":"M0,0L0.7,1L-0.7,1Z"},
"encoding":{
"x":{"field":"hx","type":"quantitative","scale":{"domain":[-5.022,5.007],"nice":false,"zero":false},
 "axis":{"orient":"top","offset":-351.7,"title":null,
 "values":[-5,-4.8,-4.6,-4.4,-4.2,-4,-3.8,-3.6,-3.4,-3.2,-3,-2.8,-2.6,-2.4,-2.2,-2,-1.8,-1.6,-1.4,-1.2,-1,-0.8,-0.6,-0.4,-0.2,0,0.2,0.4,0.6,0.8,1,1.2,1.4,1.6,1.8,2,2.2,2.4,2.6,2.8,3,3.2,3.4,3.6,3.8,4,4.2,4.4,4.6,4.8,5],
 "grid":false,"domain":false,"labels":false,"ticks":true,"tickColor":"#2e2e2e","tickSize":4,"tickWidth":1.5}},
"y":{"field":"hy","type":"quantitative","scale":{"domain":[-2.727,2.654],"nice":false,"zero":false},
 "axis":{"orient":"right","offset":-682,"title":null,
 "values":[-2.6,-2.4,-2.2,-2,-1.8,-1.6,-1.4,-1.2,-1,-0.8,-0.6,-0.4,-0.2,0,0.2,0.4,0.6,0.8,1,1.2,1.4,1.6,1.8,2,2.2,2.4,2.6],
 "grid":false,"domain":false,"labels":false,"ticks":true,"tickColor":"#2e2e2e","tickSize":4,"tickWidth":1.5}},
"angle":{"field":"ang","type":"quantitative","scale":null},
"size":{"field":"hs","type":"quantitative","scale":null},
"color":{"field":"m","type":"quantitative","scale":{"domain":[0,0.36,0.75,1.09,1.37],"range":["#0000ff","#00ffff","#00ff00","#ffff00","#ff0000"],"clamp":true},"legend":null}
}
},
{
"mark":{"type":"point","filled":true,"opacity":1,"size":13,"color":"#111111","clip":true},
"encoding":{
"x":{"field":"x","type":"quantitative","scale":{"domain":[-5.022,5.007],"nice":false,"zero":false},"axis":null},
"y":{"field":"y","type":"quantitative","scale":{"domain":[-2.727,2.654],"nice":false,"zero":false},"axis":null}
}
},
{
"data":{"values":[{"what":"axis end"}]},
"mark":{"type":"point","filled":true,"opacity":1,"size":144,"color":"#2e2e2e","shape":"M-1,-0.75L1,0L-1,0.75L-0.55,0Z","clip":true},
"encoding":{
"x":{"datum":4.955,"type":"quantitative","scale":{"domain":[-5.022,5.007],"nice":false,"zero":false},"axis":null},
"y":{"datum":0,"type":"quantitative","scale":{"domain":[-2.727,2.654],"nice":false,"zero":false},"axis":null}
}
},
{
"data":{"values":[{"px":1.769,"py":-0.249,"t":"x"},{"px":-0.301,"py":1.26,"t":"y"}]},
"mark":{"type":"text","font":"Liberation Serif","fontStyle":"italic","fontSize":17,"color":"#333333","align":"center","baseline":"middle"},
"encoding":{
"x":{"field":"px","type":"quantitative","scale":{"domain":[-5.022,5.007],"nice":false,"zero":false},"axis":null},
"y":{"field":"py","type":"quantitative","scale":{"domain":[-2.727,2.654],"nice":false,"zero":false},"axis":null},
"text":{"field":"t"}
}
}
]
}
